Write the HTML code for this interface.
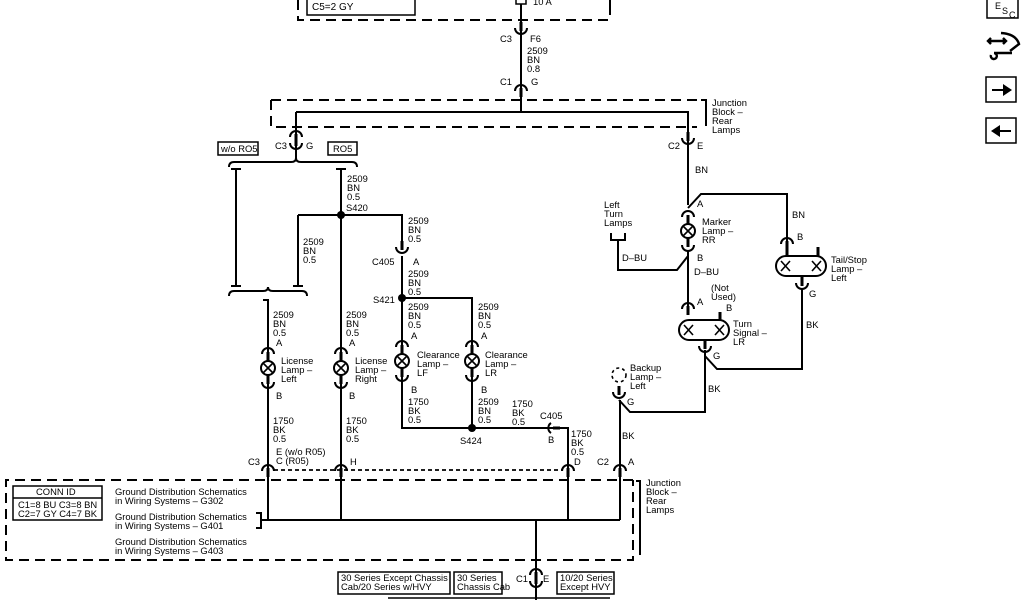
<!DOCTYPE html>
<html><head><meta charset="utf-8"><style>
html,body{margin:0;padding:0;background:#fff;width:1024px;height:600px;overflow:hidden}
svg{display:block}
text{font-family:"Liberation Sans",sans-serif;font-size:9.4px;fill:#000}
</style></head><body>
<svg width="1024" height="600" viewBox="0 0 1024 600" xmlns="http://www.w3.org/2000/svg">
<defs>
<g id="lamp">
<path d="M-6,-14 A6,6 0 0 1 6,-14" fill="none" stroke="#000" stroke-width="2"/>
<line x1="0" y1="-16" x2="0" y2="-7" stroke="#000" stroke-width="3"/>
<circle r="7" fill="#fff" stroke="#000" stroke-width="2"/>
<path d="M-5,-5 L5,5 M5,-5 L-5,5" stroke="#000" stroke-width="1.6"/>
<line x1="0" y1="7" x2="0" y2="16" stroke="#000" stroke-width="3"/>
<path d="M-6,14 A6,6 0 0 0 6,14" fill="none" stroke="#000" stroke-width="2"/>
</g>
<g id="pill">
<rect x="-25" y="-10" width="50" height="20" rx="10" fill="#fff" stroke="#000" stroke-width="2"/>
<path d="M-20,-5 L-11,5 M-11,-5 L-20,5 M11,-5 L20,5 M20,-5 L11,5" stroke="#000" stroke-width="1.6"/>
</g>
<g id="cdn"><path d="M-6,3 A6,6 0 0 1 6,3" fill="none" stroke="#000" stroke-width="2"/><line x1="0" y1="0" x2="0" y2="9" stroke="#000" stroke-width="3"/></g>
<g id="cup"><path d="M-6,-3 A6,6 0 0 0 6,-3" fill="none" stroke="#000" stroke-width="2"/><line x1="0" y1="0" x2="0" y2="-9" stroke="#000" stroke-width="3"/></g>
</defs>
<g fill="none" stroke="#000" stroke-width="2">
<path d="M298,0 V20 H610" stroke-dasharray="10,6"/>
<line x1="610" y1="0" x2="610" y2="15"/>
<rect x="307" y="-5" width="108" height="20" stroke-width="1.5"/>
<rect x="516" y="-4" width="10" height="8" stroke-width="1.5"/>
<line x1="521" y1="4" x2="521" y2="112"/>
<path d="M271,100 H697 M271,100 V127 H697" stroke-dasharray="10,6"/>
<path d="M701,100 H706 V126" />
<path d="M296,112 H688 V205"/>
<line x1="296" y1="112" x2="296" y2="160"/>
<path d="M229,167 Q229,162 234,162 H291 Q296,162 296,158 Q296,162 301,162 H352 Q357,162 357,167"/>
<path d="M231,169 H241 M236,169 V286 M231,286 H241"/>
<path d="M336,169 H346 M341,169 V470"/>
<path d="M298,215 H402 V244 M298,215 V286 M293,286 H303"/>
<path d="M229,296 Q229,291 234,291 H263 Q268,291 268,287 Q268,291 273,291 H302 Q307,291 307,296"/>
<path d="M263,300 H268 V470"/>
<path d="M402,256 V428 H553"/>
<path d="M402,298 H472 V428"/>
<path d="M551,423 A6,6 0 0 0 551,433" />
<path d="M553,428 H568 V470" />
<line x1="553" y1="428" x2="560" y2="428" stroke-width="3"/>
<line x1="274" y1="470" x2="562" y2="470" stroke-dasharray="4,3" stroke-width="1.8"/>
<path d="M633,480 H6 V560 H633 V480" stroke-dasharray="10,6"/>
<path d="M636,481 H640 V555"/>
<path d="M256,513 H261 V528 H256"/>
<path d="M261,520 H620"/>
<path d="M268,470 V520 M341,470 V520 M568,470 V520 M620,400 V520 M536,520 V600"/>
<rect x="13" y="486" width="89" height="34" stroke-width="1.5"/>
<line x1="13" y1="498" x2="102" y2="498" stroke-width="1.5"/>
<rect x="338" y="572" width="112" height="22" stroke-width="1.5"/>
<rect x="454" y="572" width="48" height="22" stroke-width="1.5"/>
<rect x="557" y="572" width="57" height="22" stroke-width="1.5"/>
<path d="M388,598 H610" stroke-width="1.5"/>
<path d="M688,208 L701,194 H787 V241"/>
<path d="M688,250 V306"/>
<path d="M611,233 V240 H625 V233 M618,240 V270 H677 L688,256"/>
<path d="M802,288 V369 H717 L705,356"/>
<path d="M705,350 V412 H630 L619,400"/>
<line x1="720" y1="312" x2="720" y2="321" stroke-width="3"/>
<line x1="787" y1="247" x2="787" y2="256" stroke-width="3"/>
<line x1="818" y1="247" x2="818" y2="256" stroke-width="3"/>
<circle cx="619" cy="375" r="7" stroke-dasharray="3,3" stroke-width="1.6"/>
<rect x="987" y="-4" width="31" height="22" stroke-width="1.5"/>
<rect x="986" y="77" width="30" height="25" stroke-width="1.5"/>
<rect x="986" y="118" width="30" height="25" stroke-width="1.5"/>
<path d="M988,41 H1006 M991,38 L988,41 L991,44 M1003,38 L1006,41 L1003,44 M994,53 H1012 M1001,33 Q1016,34 1019,44 L1010,51 M991,55 A3,3 0 1 0 994,53" stroke-width="2.4"/>
</g>
<path d="M992,89 H1003 V84 L1012,90 L1003,96 V91 H992Z" fill="#000"/>
<path d="M1011,130 H1000 V125 L991,131 L1000,137 V132 H1011Z" fill="#000"/>
<g fill="#000">
<circle cx="341" cy="215" r="4"/><circle cx="402" cy="298" r="4"/><circle cx="472" cy="428" r="4"/>
</g>
<use href="#cup" x="521" y="31"/>
<use href="#cdn" x="521" y="88"/>
<use href="#cdn" x="296" y="134"/>
<use href="#cup" x="296" y="146"/>
<use href="#cup" x="688" y="141"/>
<use href="#cup" x="402" y="250"/>
<use href="#cdn" x="268" y="468"/>
<use href="#cdn" x="341" y="468"/>
<use href="#cdn" x="568" y="468"/>
<use href="#cdn" x="620" y="468"/>
<use href="#cdn" x="536" y="572"/>
<use href="#cup" x="536" y="584"/>
<use href="#cdn" x="787" y="241"/>
<use href="#cup" x="802" y="286"/>
<use href="#cdn" x="688" y="306"/>
<use href="#cup" x="705" y="349"/>
<use href="#cup" x="619" y="395"/>
<use href="#lamp" x="268" y="368"/>
<use href="#lamp" x="341" y="368"/>
<use href="#lamp" x="402" y="361"/>
<use href="#lamp" x="472" y="361"/>
<use href="#lamp" x="688" y="231"/>
<use href="#pill" x="801" y="266"/>
<use href="#pill" x="704" y="330"/>
<g>
<text x="312" y="10" style="font-size:10px">C5=2 GY</text><text x="533" y="5">10 A</text>
<text x="500" y="42">C3</text><text x="530" y="42">F6</text>
<text x="527" y="54">2509</text><text x="527" y="63">BN</text><text x="527" y="72">0.8</text>
<text x="500" y="85">C1</text><text x="531" y="85">G</text>
<text x="712" y="106">Junction</text><text x="712" y="115">Block –</text><text x="712" y="124">Rear</text><text x="712" y="133">Lamps</text>
<text x="275" y="149">C3</text><text x="306" y="149">G</text>
<text x="668" y="149">C2</text><text x="697" y="149">E</text>
<rect x="218" y="142" width="40" height="13" fill="none" stroke="#000" stroke-width="1.5"/><text x="221" y="152">w/o RO5</text>
<rect x="328" y="142" width="29" height="13" fill="none" stroke="#000" stroke-width="1.5"/><text x="333" y="152">RO5</text>
<text x="347" y="182">2509</text><text x="347" y="191">BN</text><text x="347" y="200">0.5</text><text x="346" y="211">S420</text>
<text x="303" y="245">2509</text><text x="303" y="254">BN</text><text x="303" y="263">0.5</text>
<text x="408" y="224">2509</text><text x="408" y="233">BN</text><text x="408" y="242">0.5</text>
<text x="372" y="265">C405</text><text x="413" y="265">A</text>
<text x="408" y="277">2509</text><text x="408" y="286">BN</text><text x="408" y="295">0.5</text>
<text x="373" y="303">S421</text>
<text x="273" y="318">2509</text><text x="273" y="327">BN</text><text x="273" y="336">0.5</text><text x="276" y="346">A</text>
<text x="346" y="318">2509</text><text x="346" y="327">BN</text><text x="346" y="336">0.5</text><text x="349" y="346">A</text>
<text x="408" y="310">2509</text><text x="408" y="319">BN</text><text x="408" y="328">0.5</text><text x="411" y="339">A</text>
<text x="478" y="310">2509</text><text x="478" y="319">BN</text><text x="478" y="328">0.5</text><text x="481" y="339">A</text>
<text x="281" y="364">License</text><text x="281" y="373">Lamp –</text><text x="281" y="382">Left</text>
<text x="355" y="364">License</text><text x="355" y="373">Lamp –</text><text x="355" y="382">Right</text>
<text x="417" y="358">Clearance</text><text x="417" y="367">Lamp –</text><text x="417" y="376">LF</text>
<text x="485" y="358">Clearance</text><text x="485" y="367">Lamp –</text><text x="485" y="376">LR</text>
<text x="276" y="399">B</text><text x="349" y="399">B</text><text x="411" y="393">B</text><text x="481" y="393">B</text>
<text x="408" y="405">1750</text><text x="408" y="414">BK</text><text x="408" y="423">0.5</text>
<text x="478" y="405">2509</text><text x="478" y="414">BN</text><text x="478" y="423">0.5</text>
<text x="512" y="407">1750</text><text x="512" y="416">BK</text><text x="512" y="425">0.5</text>
<text x="540" y="419">C405</text><text x="548" y="443">B</text><text x="460" y="444">S424</text>
<text x="571" y="437">1750</text><text x="571" y="446">BK</text><text x="571" y="455">0.5</text><text x="574" y="465">D</text>
<text x="273" y="424">1750</text><text x="273" y="433">BK</text><text x="273" y="442">0.5</text>
<text x="346" y="424">1750</text><text x="346" y="433">BK</text><text x="346" y="442">0.5</text>
<text x="276" y="455">E (w/o R05)</text><text x="276" y="464">C (R05)</text><text x="248" y="465">C3</text>
<text x="350" y="465">H</text><text x="597" y="465">C2</text><text x="628" y="465">A</text>
<text x="622" y="439">BK</text>
<text x="646" y="486">Junction</text><text x="646" y="495">Block –</text><text x="646" y="504">Rear</text><text x="646" y="513">Lamps</text>
<text x="36" y="495">CONN ID</text>
<text x="18" y="508">C1=8 BU  C3=8 BN</text><text x="18" y="517">C2=7 GY  C4=7 BK</text>
<text x="115" y="495">Ground Distribution Schematics</text><text x="115" y="504">in Wiring Systems – G302</text>
<text x="115" y="520">Ground Distribution Schematics</text><text x="115" y="529">in Wiring Systems – G401</text>
<text x="115" y="545">Ground Distribution Schematics</text><text x="115" y="554">in Wiring Systems – G403</text>
<text x="341" y="581">30 Series Except Chassis</text><text x="341" y="590">Cab/20 Series w/HVY</text>
<text x="457" y="581">30 Series</text><text x="457" y="590">Chassis Cab</text>
<text x="516" y="582">C1</text><text x="543" y="582">E</text>
<text x="560" y="581">10/20 Series</text><text x="560" y="590">Except HVY</text>
<text x="695" y="173">BN</text><text x="697" y="207">A</text>
<text x="702" y="225">Marker</text><text x="702" y="234">Lamp –</text><text x="702" y="243">RR</text>
<text x="697" y="261">B</text><text x="694" y="275">D–BU</text><text x="622" y="261">D–BU</text>
<text x="604" y="208">Left</text><text x="604" y="217">Turn</text><text x="604" y="226">Lamps</text>
<text x="792" y="218">BN</text><text x="797" y="240">B</text>
<text x="831" y="263">Tail/Stop</text><text x="831" y="272">Lamp –</text><text x="831" y="281">Left</text>
<text x="809" y="297">G</text><text x="806" y="328">BK</text>
<text x="711" y="291">(Not</text><text x="711" y="300">Used)</text><text x="697" y="305">A</text><text x="726" y="311">B</text>
<text x="733" y="327">Turn</text><text x="733" y="336">Signal –</text><text x="733" y="345">LR</text>
<text x="713" y="359">G</text><text x="708" y="392">BK</text>
<text x="630" y="371">Backup</text><text x="630" y="380">Lamp –</text><text x="630" y="389">Left</text>
<text x="627" y="405">G</text>
<text x="995" y="9" style="font-size:9px">E</text><text x="1002" y="14" style="font-size:9px">S</text><text x="1009" y="18" style="font-size:9px">C</text>
</g>
</svg>
</body></html>
